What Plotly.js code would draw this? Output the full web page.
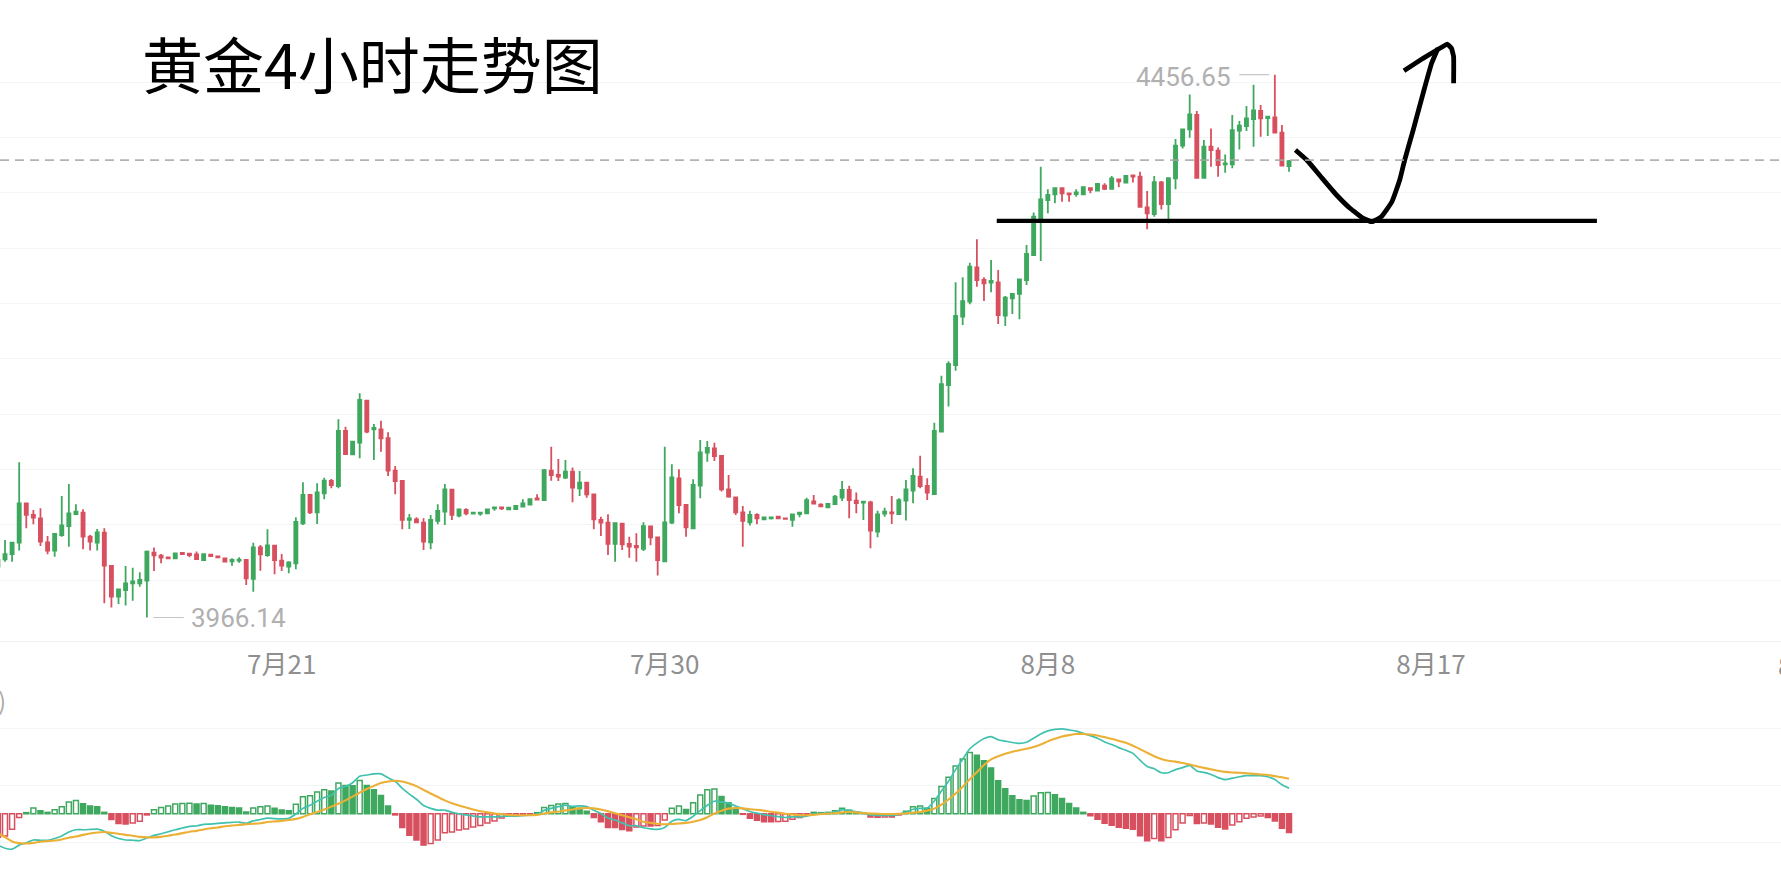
<!DOCTYPE html>
<html><head><meta charset="utf-8">
<script src="https://cdn.plot.ly/plotly-3.0.1.min.js"></script>
<style>html,body{margin:0;padding:0;background:#fff;overflow:hidden}#c{width:1781px;height:889px}</style>
</head><body><div id="c"></div>
<script>
// 4-hour gold bars, first bar index -1
const first_bar_index = -1;
const open_values = [
4012.1,4018.7,4023.5,4033.8,4069.3,4058.8,4055.8,4034.1,4026.6,4040.7,
4048.8,4059.7,4060.9,4039.2,4033.8,4042.8,4012.7,3985,3991,3997,
3997,3999.4,4024.8,4022,4020.5,4019.6,4024.5,4023.8,4023.2,4018.1,
4022.9,4021.4,4019.6,4016.9,4017.5,4018.1,4001,4029.6,4022.6,4031.1,
4017.5,4012.1,4015.1,4051.3,4076.9,4061.2,4078.4,4089.5,4085,4134.7,
4113.6,4124.1,4162,4136.2,4136.2,4128.1,4098.8,4089.5,4054.3,4054.9,
4051.9,4034.1,4053.4,4061.8,4081.7,4058.2,4063.3,4060,4060,4060.3,
4064.8,4065.7,4063.9,4064.2,4066.3,4068.1,4073.8,4072.3,4098.8,4094.9,
4092.5,4097.9,4082.9,4088,4077.5,4054.3,4051.9,4032.6,4051,4032.6,
4030.8,4028.1,4048.5,4038.6,4016.9,4051.9,4091.9,4067.8,4046.7,4085.3,
4115.1,4119,4112.1,4082,4074.7,4061.2,4052.2,4058.8,4054.9,4055.8,
4057.3,4055.8,4054.3,4059.7,4060.3,4071.1,4068.1,4065.7,4068.7,4074.4,
4081.4,4071.7,4069.9,4070.2,4043.7,4060,4061.2,4059.7,4071.7,4080.8,
4093.4,4085,4077.7,4134.1,4176.2,4194.3,4238,4251.5,4282.6,4271.1,
4268.7,4269,4238.9,4254.5,4258.5,4271.1,4293.7,4326.8,4343.4,4348.5,
4354,4349.4,4348.8,4348.5,4354,4351.9,4356.4,4353.4,4362.1,4359.1,
4365.7,4364.4,4336.7,4330.7,4359.3,4339.7,4363,4392.5,4407.2,4420.2,
4363.5,4391.6,4387.9,4375.6,4375.6,4406,4410.2,4416.6,4423.8,4417.5,
4418.1,4404.2,4374.1];
const high_values = [
4019.6,4036.2,4034.7,4106.4,4069.3,4063.3,4064.8,4039.8,4042.2,4076,
4086.8,4068.4,4063.9,4040.7,4046.1,4046.7,4012.7,3991.9,4012.7,4011.2,
4007,4026.6,4029.3,4023.5,4020.5,4024.1,4024.5,4023.8,4025.7,4023.5,
4022.9,4021.4,4019.6,4019.6,4020.5,4018.7,4033.8,4031.7,4045.8,4031.4,
4023.5,4016.9,4056.7,4088.3,4077.8,4087.4,4092.5,4091.3,4145.2,4138.6,
4125,4168.7,4162.5,4141,4144,4133.5,4103.1,4089.5,4059.7,4056.7,
4055.8,4058.8,4068.4,4086.8,4082,4063.9,4064.8,4060.9,4060.9,4063.9,
4065.7,4065.7,4065.4,4066.9,4072.9,4073.2,4077.5,4100.4,4120.5,4109.4,
4108.5,4101.6,4098.5,4088.3,4077.8,4057.3,4059.4,4051.3,4051.3,4039.2,
4042.2,4052.2,4048.8,4038.6,4120.5,4104.6,4100.1,4068.4,4091,4126.6,
4125.7,4124.1,4113,4094.9,4075.4,4066.9,4062.7,4060.3,4056.7,4056.7,
4057.3,4055.8,4059.4,4061.8,4074.4,4076.9,4069.3,4068.7,4076.9,4089.5,
4085.3,4079,4070.8,4071.7,4062.7,4065.4,4076,4073.8,4090.4,4101,
4112.4,4091.9,4142.2,4184.7,4197.6,4269,4273.5,4286.8,4307.9,4273.5,
4289.2,4280.1,4256.7,4259.1,4272,4302.7,4332,4373.5,4353.1,4354,
4354.9,4349.4,4353.1,4354.9,4354,4358.5,4358.5,4365.1,4362.1,4365.1,
4365.7,4369,4351.5,4365,4360.5,4363.8,4398.5,4407.2,4438.8,4423.8,
4397.6,4408.1,4390.9,4384.6,4420.2,4414.7,4428.3,4447.6,4429.2,4418.7,
4456.65,4411.1,4379.5];
const low_values = [
4004.6,4016.6,4016.6,4026.6,4046.7,4050.4,4030.8,4023.2,4021.1,4039.2,
4030.2,4058.8,4027.8,4026.6,4026.6,3979,3975.1,3978.4,3976.9,3981.4,
3994,3966.14,4008.2,4015.1,4019.6,4019.6,4023.5,4020.5,4018.7,4018.1,
4021.7,4020.5,4016.6,4013,4015.7,3995.5,3989.5,4008.5,4021.1,4005.2,
4008.2,4006.1,4009.7,4049.7,4059.7,4050.7,4072.9,4082.9,4082.9,4113,
4113,4110,4132.6,4108.5,4116,4094,4077.5,4045.8,4046.1,4051.9,
4027.2,4027.8,4050.4,4049.7,4054.3,4056.7,4058.5,4060,4058.2,4060.3,
4062.7,4063.3,4063.9,4064.2,4066.3,4068.1,4072.3,4072.3,4089.8,4089.5,
4091.3,4070.2,4076,4074.4,4045.8,4039.8,4022.6,4016.6,4027.2,4020.2,
4016.6,4026.3,4031.4,4004,4016,4050.7,4060.3,4039.2,4046.1,4073.8,
4107,4107.6,4079.9,4074.4,4058.8,4030.2,4049.4,4050.4,4054.9,4054.6,
4055.8,4055.2,4048.2,4056.7,4060.3,4068.7,4066.3,4065.7,4068.1,4071.4,
4055.8,4060.3,4054.3,4028.7,4038.6,4057.3,4050.7,4059.4,4053.7,4069.3,
4082.9,4072.3,4076.8,4134.1,4156.7,4189.2,4230.4,4249.1,4265.1,4252.1,
4260,4231.4,4229.5,4240.4,4235.6,4266.6,4293,4288.2,4331.4,4340.4,
4341.9,4341.9,4346.4,4348.5,4349.4,4351.9,4352.5,4353.4,4354.9,4359.1,
4359.1,4336.7,4316.9,4328.3,4334.9,4322.3,4353,4390,4399.7,4362.9,
4362.9,4373.5,4364.4,4368.1,4372,4389.1,4405.7,4391.6,4400.6,4401.2,
4403.6,4374.4,4369];
const close_values = [
4018.1,4023.5,4033.8,4069.3,4058.8,4056.4,4034.7,4026.6,4041.6,4049.4,
4060.3,4061.8,4039.2,4034.7,4043.1,4013,3985,3991.6,3997,3998.8,
4000.1,4025.7,4022.3,4020.2,4019.6,4024.1,4023.5,4022.6,4019,4023.5,
4021.7,4020.5,4016.6,4018.1,4018.4,4001.6,4029.6,4023.2,4031.4,4018.1,
4013,4016,4052.5,4076.9,4061.2,4079.3,4089.8,4085.9,4134.7,4113.9,
4125,4162.7,4134.1,4137.4,4128.1,4098.8,4089.5,4054.3,4055.8,4052.2,
4034.7,4054.3,4062.4,4082,4058.8,4063.9,4060.3,4060.9,4060.9,4063.9,
4065.7,4064.8,4065.4,4066.9,4069.3,4073.2,4072.6,4099.4,4094.9,4093.4,
4097.9,4083.5,4088,4077.5,4054.9,4051.9,4032.6,4051.3,4032.3,4030.2,
4029.6,4048.8,4038.6,4018.1,4052.2,4092.8,4067.8,4047.6,4085.9,4115.4,
4119.3,4112.1,4082,4075.4,4061.2,4053.4,4058.8,4055.8,4056.7,4056.7,
4055.8,4055.2,4059.4,4060.9,4072.3,4069,4066.6,4068.7,4075.4,4081.4,
4072.3,4069.6,4070.8,4044.6,4059.4,4061.8,4060.3,4072.3,4082,4094,
4085,4079,4134.7,4177.1,4195.2,4238.6,4252.1,4283.2,4271.1,4268.1,
4270.2,4239.5,4255.1,4258.5,4271.7,4294.6,4328.3,4344,4347.9,4354,
4349.4,4348.5,4350.3,4354.9,4352.5,4357.9,4353.4,4363,4360.3,4365.1,
4364.5,4337.3,4331.3,4359.6,4339.7,4363.2,4392.5,4407.2,4420.8,4363.5,
4391.6,4388.5,4375,4376.5,4406.6,4410.5,4417.2,4424.4,4417.2,4418.7,
4404.2,4374.4,4378.6];

// MACD panel
const macd_hist = [
-8.2,-7.8,-5.4,-1.3,0.4,2,1.1,0.5,1.4,2.5,
4.1,4.7,3.5,2.7,2.5,0.5,-2,-3.4,-3.6,-3.2,
-2.6,-0.4,1.4,2.2,2.7,3.4,3.6,3.7,3.4,3.6,
3,2.8,2.5,2.2,2,0.6,2,2.5,2.7,1.9,
1.3,1.1,3.3,6,6.3,7.6,8.4,8,10.8,9.9,
9.8,11.7,9.9,8.4,6.4,2.7,-0.4,-4.8,-7.5,-9.2,
-11,-10.4,-9.2,-6.7,-6.4,-5.7,-5.3,-4.6,-4.1,-3.2,
-2.5,-1.5,-0.8,-0.6,-0.4,-0.1,0.4,2.2,2.9,3.4,
3.6,2.2,1.9,0.9,-1.3,-2.8,-4.8,-4.8,-5.5,-6,
-4.6,-4.3,-4.3,-4.1,-2.2,1.9,2.7,1.5,3.9,6.6,
8.4,8.7,6.1,3.9,1.5,-0.2,-1.6,-2.3,-2.8,-2.8,
-2.7,-2.6,-1.9,-1.3,-0.5,0.5,0.4,0.5,1.1,1.9,
1.2,0.5,0.2,-1.1,-1.2,-1.1,-1.1,-0.4,0.9,2.5,
2.7,1.9,5.4,9.6,12.8,16.8,19.2,21.5,20.5,18.6,
16.1,11.6,8.8,6.3,4.9,4.7,6.2,7.4,7.5,6.7,
5.4,3.6,2,0.5,-0.7,-1.9,-3.3,-4,-4.7,-5.1,
-5.4,-7.7,-9.5,-8.7,-9.5,-8.3,-5.6,-3.2,-0.6,-3.4,
-3.2,-3.6,-4.7,-5.3,-3.9,-2.8,-1.6,-1.1,-0.8,-1.3,
-2.5,-5.1,-6.6];
const dif_values = [
-11,-12.1,-12.4,-11,-10.2,-9.2,-9.3,-9.3,-8.7,-7.8,
-6.4,-5.6,-5.6,-5.5,-5.4,-6.1,-7.7,-8.7,-9.2,-9.3,
-9.4,-8.5,-7.6,-7,-6.3,-5.6,-5,-4.4,-4.3,-3.7,
-3.6,-3.4,-3.2,-3,-2.9,-3.4,-2.5,-2,-1.5,-1.7,
-1.8,-1.6,-0.1,1.9,3,4.4,5.7,6.5,8.9,9.6,
10.9,13.2,13.6,14,14,12.6,11.4,8.9,6.9,5.1,
2.9,1.9,1.3,1.3,0.5,0,-0.4,-0.8,-1.1,-1.1,
-1.1,-0.9,-0.8,-0.8,-0.7,-0.5,-0.2,1.2,1.9,2.5,
3,2.6,2.8,2.5,1.2,0.1,-1.5,-2.2,-3.2,-4.2,
-4.2,-4.9,-5.3,-5.5,-4.8,-2.6,-2,-2.4,-0.9,1.1,
3,4.4,4.1,3.7,2.7,1.8,0.8,0.2,-0.3,-0.7,
-1,-1.3,-1.1,-1.1,-0.8,-0.1,0.1,0.2,0.7,1.4,
1.2,0.7,0.3,-0.4,-0.6,-0.6,-0.6,-0.2,0.5,1.6,
1.9,2,4.5,8,11.4,15.5,19.1,22.8,24.8,26.4,
27.1,26,25.5,25,24.7,25.1,26.5,28,29.1,29.6,
29.8,29.4,29,28.2,27.4,26.5,25.2,24.3,23.2,22.3,
21.2,18.8,16.6,15.8,14.4,14.4,15.5,16.2,17,15,
14.5,13.8,12.7,12,12.5,13,13.4,13.4,13.4,13,
12,10.2,9];
const dea_values = [
-6.9,-8.2,-9.7,-10.3,-10.4,-10.2,-9.8,-9.6,-9.4,-9,
-8.4,-8,-7.4,-6.9,-6.6,-6.4,-6.7,-7,-7.4,-7.7,
-8.1,-8.3,-8.3,-8.1,-7.7,-7.3,-6.8,-6.3,-6,-5.5,
-5.1,-4.8,-4.4,-4.1,-3.9,-3.7,-3.5,-3.3,-2.9,-2.7,
-2.5,-2.2,-1.8,-1.1,-0.2,0.6,1.5,2.5,3.5,4.7,
6,7.4,8.7,9.8,10.8,11.3,11.6,11.3,10.6,9.7,
8.4,7.1,5.9,4.7,3.7,2.9,2.2,1.5,0.9,0.5,
0.1,-0.1,-0.4,-0.5,-0.5,-0.5,-0.4,0.1,0.5,0.8,
1.2,1.5,1.9,2,1.9,1.5,0.9,0.2,-0.5,-1.2,
-1.9,-2.8,-3.2,-3.5,-3.7,-3.6,-3.4,-3.2,-2.8,-2.2,
-1.2,0.1,1.1,1.8,2,1.9,1.6,1.4,1.1,0.7,
0.4,0,-0.2,-0.5,-0.5,-0.4,-0.1,0,0.2,0.5,
0.6,0.5,0.2,0.1,0,-0.1,-0.1,0,0.1,0.4,
0.6,1.1,1.8,3.2,5,7.1,9.5,12.1,14.6,17.1,
19.1,20.2,21.1,21.8,22.3,22.8,23.4,24.3,25.4,26.3,
27.1,27.6,28,28,27.8,27.5,26.9,26.3,25.6,24.9,
23.9,22.7,21.4,20.2,19.2,18.6,18.3,17.8,17.3,16.7,
16.1,15.6,15.1,14.7,14.5,14.4,14.2,14,13.8,13.6,
13.2,12.8,12.3];

// axis labels and levels
const date_ticks = ['2025-07-21','2025-07-30','2025-08-08','2025-08-17'];
const date_labels = ['7月21','7月30','8月8','8月17'];
const price_grid = [4000,4050,4100,4150,4200,4250,4300,4350,4400,4450];
const macd_grid = [46.5,30,10,-10];
const last_price = 4379.5;
const high_price = 4456.65, low_price = 3966.14;

// hand-drawn strokes: bar index and price
const stroke_line_bar = [139.8,224.4], stroke_line_price = [4324.5,4324.5];
const stroke_curve_bar = [181.9,183.5,185.4,187.7,189.6,191.5,192.7,194,195.5,196.6,197.3,198.5,199.9,201.1,202];
const stroke_curve_price = [4388.6,4379.5,4365.1,4347.9,4335.9,4326.8,4323.8,4328.3,4341.8,4361.4,4379.5,4406.6,4439.8,4466.9,4480.5];
const stroke_head_bar = [197.2,199.9,202.5,203.3,203.9,204.2,204.2];
const stroke_head_price = [4460.2,4471.4,4481.4,4484.3,4480.5,4472.9,4448.8];

const GREEN='#3fa85f', RED='#d8505f', TEAL='#41c1ae', GOLD='#ebb035';
const T0 = Date.UTC(2025,6,14,12), H4 = 4*3600*1000;
const toDate = i => new Date(T0 + i*H4).toISOString().replace('Z','');
const times = open_values.map((_,k)=>toDate(first_bar_index+k));

const up = v => v>=0 ? GREEN : RED;
const hollow = macd_hist.map((v,k)=> k>0 && v>macd_hist[k-1]);

const traces = [
 {type:'bar',x:times,y:macd_hist,xaxis:'x2',yaxis:'y2',hoverinfo:'skip',
  marker:{color:macd_hist.map((v,k)=>hollow[k]?'#ffffff':up(v)),line:{color:macd_hist.map(up),width:1.5}}},
 {type:'scatter',mode:'lines',x:times,y:dif_values,xaxis:'x2',yaxis:'y2',hoverinfo:'skip',line:{color:TEAL,width:1.7,shape:'spline',smoothing:0.6}},
 {type:'scatter',mode:'lines',x:times,y:dea_values,xaxis:'x2',yaxis:'y2',hoverinfo:'skip',line:{color:GOLD,width:2.1,shape:'spline',smoothing:0.6}},
 {type:'candlestick',x:times,open:open_values,high:high_values,low:low_values,close:close_values,xaxis:'x',yaxis:'y',hoverinfo:'skip',whiskerwidth:0,
  increasing:{line:{color:GREEN,width:1.8},fillcolor:GREEN},
  decreasing:{line:{color:RED,width:1.8},fillcolor:RED}},
 {type:'scatter',mode:'lines',x:[20.9,25.2].map(toDate),y:[low_price,low_price],xaxis:'x',yaxis:'y',hoverinfo:'skip',line:{color:'#c4c4c4',width:1.2}},
 {type:'scatter',mode:'lines',x:[174,178.2].map(toDate),y:[high_price,high_price],xaxis:'x',yaxis:'y',hoverinfo:'skip',line:{color:'#c4c4c4',width:1.2}},
 {type:'scatter',mode:'lines',x:stroke_line_bar.map(toDate),y:stroke_line_price,xaxis:'x',yaxis:'y',hoverinfo:'skip',line:{color:'#000',width:4.4}},
 {type:'scatter',mode:'lines',x:stroke_curve_bar.map(toDate),y:stroke_curve_price,xaxis:'x',yaxis:'y',hoverinfo:'skip',line:{color:'#000',width:4.8,shape:'spline',smoothing:0.4}},
 {type:'scatter',mode:'lines',x:stroke_head_bar.map(toDate),y:stroke_head_price,xaxis:'x',yaxis:'y',hoverinfo:'skip',line:{color:'#000',width:4.8,shape:'spline',smoothing:0.3}}
];

const CJK = '"Noto Sans CJK SC","Noto Sans",sans-serif';
const NUM = 'Roboto,"Noto Sans",sans-serif';
const xr = [toDate(-0.705),toDate(250.35)];
const H = 889;
const layout = {
 width:1781,height:889,margin:{l:0,r:0,t:0,b:0,pad:0},paper_bgcolor:'#fff',plot_bgcolor:'#fff',
 showlegend:false,bargap:0.3,boxgap:0.38,boxmode:'overlay',
 xaxis:{type:'date',range:xr,anchor:'y',domain:[0,1],rangeslider:{visible:false},showgrid:false,zeroline:false,
  tickmode:'array',tickvals:date_ticks,ticktext:date_labels,ticks:'outside',ticklen:1,tickcolor:'rgba(0,0,0,0)',
  tickfont:{family:CJK,size:26,color:'#8f8f8f'},showline:true,linecolor:'#f2f3f5',linewidth:1.5},
 yaxis:{domain:[1-640.7/H,1],range:[3945.2,4524.1],anchor:'x',tickmode:'array',tickvals:price_grid,showticklabels:false,
  ticks:'',gridcolor:'#f3f4f6',gridwidth:1,zeroline:false,showline:false,fixedrange:true},
 xaxis2:{type:'date',range:xr,anchor:'y2',domain:[0,1],showticklabels:false,ticks:'',showgrid:false,zeroline:false,showline:false},
 yaxis2:{domain:[0,1-680.7/H],range:[-26.4,46.7],anchor:'x2',tickmode:'array',tickvals:macd_grid,showticklabels:false,
  ticks:'',gridcolor:'#f3f4f6',gridwidth:1,zeroline:false,showline:false},
 shapes:[{type:'line',xref:'paper',x0:0,x1:1,yref:'y',y0:last_price,y1:last_price,layer:'above',
   line:{color:'rgba(165,165,165,0.85)',width:1.8,dash:'9px,6px'}}],
 annotations:[
  {xref:'paper',yref:'paper',x:140/1781,y:1-63/H,xanchor:'left',yanchor:'middle',showarrow:false,
   text:'黄金4小时走势图',font:{family:CJK,size:61,color:'#000'}},
  {xref:'x',yref:'y',x:toDate(173.1),y:high_price,xanchor:'right',yanchor:'middle',yshift:-2,showarrow:false,
   text:'4456.65',font:{family:NUM,size:26,color:'#b0b0b0'}},
  {xref:'x',yref:'y',x:toDate(25.9),y:low_price,xanchor:'left',yanchor:'middle',showarrow:false,
   text:'3966.14',font:{family:NUM,size:26,color:'#b0b0b0'}},
  {xref:'paper',yref:'paper',x:1776/1781,y:1-664/H,xanchor:'left',yanchor:'middle',showarrow:false,
   text:'8',font:{family:CJK,size:26,color:'#8f8f8f'}},
  {xref:'paper',yref:'paper',x:0,xshift:-4,y:1-699/H,xanchor:'left',yanchor:'middle',showarrow:false,
   text:')',font:{family:CJK,size:24,color:'#ababab'}}
 ]
};
Plotly.newPlot('c',traces,layout,{staticPlot:true,displayModeBar:false});
</script></body></html>
